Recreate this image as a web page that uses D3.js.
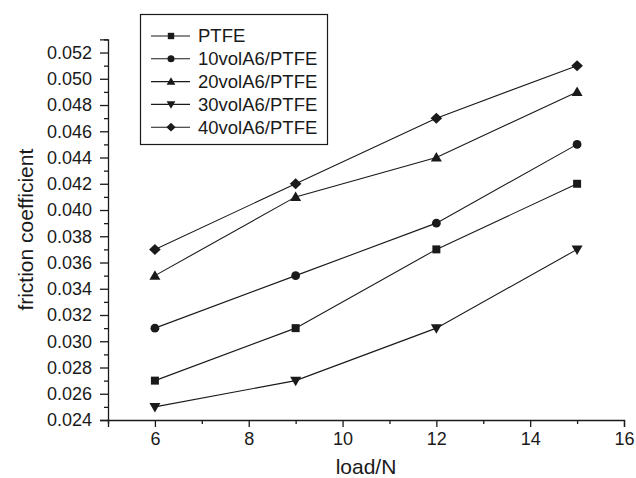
<!DOCTYPE html>
<html>
<head>
<meta charset="utf-8">
<script src="https://cdn.jsdelivr.net/npm/d3@7"></script>
<style>
  html, body { margin: 0; padding: 0; background: #fff; }
  svg { display: block; font-family: "Liberation Sans", Arial, Helvetica, sans-serif; }
</style>
</head>
<body>
<svg id="chart" width="636" height="478"></svg>
<script>
// ---- data ----
const loads = [6, 9, 12, 15];
const seriesNames = ["PTFE", "10volA6/PTFE", "20volA6/PTFE", "30volA6/PTFE", "40volA6/PTFE"];
const ptfe   = [0.027, 0.031, 0.037, 0.042];
const vol10  = [0.031, 0.035, 0.039, 0.045];
const vol20  = [0.035, 0.041, 0.044, 0.049];
const vol30  = [0.025, 0.027, 0.031, 0.037];
const vol40  = [0.037, 0.042, 0.047, 0.051];
const markerTypes = ["square", "circle", "triangleUp", "triangleDown", "diamond"];
const xTickValues = [6, 8, 10, 12, 14, 16];
const xMinorValues = [5, 7, 9, 11, 13, 15];
const yTickValues = [0.024, 0.026, 0.028, 0.030, 0.032, 0.034, 0.036, 0.038, 0.040, 0.042, 0.044, 0.046, 0.048, 0.050, 0.052];
const yMinorValues = [0.025, 0.027, 0.029, 0.031, 0.033, 0.035, 0.037, 0.039, 0.041, 0.043, 0.045, 0.047, 0.049, 0.051, 0.053];

const allSeries = [ptfe, vol10, vol20, vol30, vol40].map((vals, i) => ({
  name: seriesNames[i], marker: markerTypes[i],
  points: vals.map((v, j) => ({ x: loads[j], y: v }))
}));

// ---- layout ----
const svg = d3.select("#chart");
const x = d3.scaleLinear().domain([5, 16]).range([108, 624]);
const y = d3.scaleLinear().domain([0.024, 0.053]).range([420, 39.4]);
const ink = "#1a1a1a";

// ---- axes ----
const xAxis = svg.append("g").attr("transform", `translate(0,${y(0.024)})`)
  .call(d3.axisBottom(x).tickValues(xTickValues).tickSize(7).tickPadding(4).tickFormat(d3.format("d")));
svg.append("g").attr("transform", `translate(0,${y(0.024)})`)
  .call(d3.axisBottom(x).tickValues(xMinorValues).tickSize(4).tickFormat(""))
  .call(g => g.select(".domain").remove());

const yAxis = svg.append("g").attr("transform", `translate(${x(5)},0)`)
  .call(d3.axisLeft(y).tickValues(yTickValues).tickSize(8).tickPadding(8).tickFormat(d3.format(".3f")));
svg.append("g").attr("transform", `translate(${x(5)},0)`)
  .call(d3.axisLeft(y).tickValues(yMinorValues).tickSize(4).tickFormat(""))
  .call(g => g.select(".domain").remove());

svg.selectAll(".domain").attr("stroke", ink).attr("stroke-width", 1.3);
svg.selectAll(".tick line").attr("stroke", ink).attr("stroke-width", 1.3);
svg.selectAll(".tick text").attr("fill", ink).style("font-size", "18px")
  .style("font-family", '"Liberation Sans", Arial, sans-serif');
xAxis.selectAll(".tick text").attr("dy", "0.8em");

// axis titles
svg.append("text").attr("x", (x(5) + x(16)) / 2).attr("y", 474)
  .attr("text-anchor", "middle").attr("fill", ink).style("font-size", "21px").text("load/N");
svg.append("text").attr("transform", `translate(33,${(y(0.024) + y(0.053)) / 2}) rotate(-90)`)
  .attr("text-anchor", "middle").attr("fill", ink).style("font-size", "21px").text("friction coefficient");

// ---- markers ----
function markerPath(type, s) {
  const p = d3.path();
  if (type === "square") { const h = 4 * s; p.rect(-h, -h, 2 * h, 2 * h); }
  else if (type === "circle") { p.arc(0, 0, 4.4 * s, 0, 2 * Math.PI); }
  else if (type === "triangleUp") { p.moveTo(0, -5.5 * s); p.lineTo(5.5 * s, 4 * s); p.lineTo(-5.5 * s, 4 * s); p.closePath(); }
  else if (type === "triangleDown") { p.moveTo(0, 5.5 * s); p.lineTo(5.5 * s, -4 * s); p.lineTo(-5.5 * s, -4 * s); p.closePath(); }
  else if (type === "diamond") { p.moveTo(0, -5.5 * s); p.lineTo(5.8 * s, 0); p.lineTo(0, 5.5 * s); p.lineTo(-5.8 * s, 0); p.closePath(); }
  return p.toString();
}

const line = d3.line().x(d => x(d.x)).y(d => y(d.y));
const gS = svg.selectAll(".series").data(allSeries).join("g").attr("class", "series");
gS.append("path").attr("d", d => line(d.points)).attr("fill", "none")
  .attr("stroke", ink).attr("stroke-width", 1.1);
gS.selectAll(".pt").data(d => d.points.map(p => ({ ...p, marker: d.marker }))).join("path")
  .attr("class", "pt").attr("transform", d => `translate(${x(d.x)},${y(d.y)})`)
  .attr("d", d => markerPath(d.marker, 1)).attr("fill", ink);

// ---- legend ----
const lg = svg.append("g");
lg.append("rect").attr("x", 140.5).attr("y", 14.5).attr("width", 187).attr("height", 130)
  .attr("fill", "#fff").attr("stroke", ink).attr("stroke-width", 1.2);
allSeries.forEach((s, i) => {
  const cy = 36 + i * 22.8;
  lg.append("line").attr("x1", 151).attr("x2", 190).attr("y1", cy).attr("y2", cy)
    .attr("stroke", ink).attr("stroke-width", 1.1);
  lg.append("path").attr("transform", `translate(171,${cy})`).attr("d", markerPath(s.marker, 0.8)).attr("fill", ink);
  lg.append("text").attr("x", 198).attr("y", cy).attr("dy", "0.35em").attr("fill", ink)
    .style("font-size", "18.5px").text(s.name);
});
</script>
</body>
</html>
